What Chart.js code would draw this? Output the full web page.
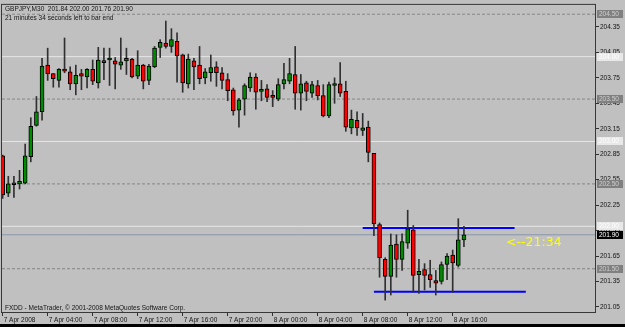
<!DOCTYPE html>
<html>
<head>
<meta charset="utf-8">
<script src="https://cdn.jsdelivr.net/npm/chart.js@4.4.0/dist/chart.umd.min.js"></script>
<style>
  html, body { margin: 0; padding: 0; background: #000; }
  canvas { display: block; }
</style>
</head>
<body>
<canvas id="myChart" width="625" height="324"></canvas>
<script>
// GBPJPY M30, 7-8 Apr 2008 (bar 0 = 7 Apr 00:00)
var symbol = 'GBPJPY,M30';
var opens = [
  202.83, 202.39, 202.49, 202.50, 202.51, 202.82, 203.19, 203.35, 203.90, 203.80,
  203.72, 203.85, 203.82, 203.68, 203.80, 203.76, 203.85, 203.69, 203.93, 203.96,
  203.95, 203.90, 203.95, 203.97, 203.77, 203.90, 203.72, 203.88, 204.11, 204.16,
  204.12, 204.18, 204.02, 203.68, 203.95, 203.90, 203.75, 203.81, 203.88, 203.81,
  203.73, 203.61, 203.37, 203.50, 203.63, 203.76, 203.59, 203.62, 203.54, 203.50,
  203.68, 203.71, 203.79, 203.57, 203.69, 203.57, 203.66, 203.54, 203.30, 203.66,
  203.68, 203.59, 203.16, 203.25, 203.13, 203.17, 202.86, 202.02, 201.61, 201.41,
  201.79, 201.61, 201.80, 201.96, 201.43, 201.49, 201.43, 201.36, 201.35, 201.55,
  201.66, 201.54, 201.84
];
var highs = [
  202.84, 202.59, 202.59, 202.66, 202.97, 203.28, 203.53, 203.98, 204.10, 203.80,
  203.86, 204.22, 203.88, 203.90, 203.85, 203.86, 203.96, 204.11, 204.10, 204.10,
  203.99, 204.22, 204.10, 203.98, 204.07, 203.91, 203.91, 204.12, 204.20, 204.42,
  204.33, 204.28, 204.03, 204.03, 203.98, 204.12, 203.86, 204.02, 203.94, 203.87,
  203.80, 203.63, 203.51, 203.68, 203.81, 203.80, 203.72, 203.67, 203.60, 203.74,
  203.92, 203.98, 204.12, 203.79, 203.71, 203.71, 203.72, 203.67, 203.70, 203.75,
  203.93, 203.71, 203.37, 203.35, 203.33, 203.24, 202.86, 202.04, 201.63, 201.91,
  201.90, 201.91, 202.19, 202.01, 201.61, 201.56, 201.60, 201.48, 201.58, 201.68,
  201.72, 202.09, 202.00
];
var lows = [
  202.33, 202.35, 202.34, 202.44, 202.50, 202.76, 203.18, 203.25, 203.72, 203.64,
  203.64, 203.81, 203.61, 203.55, 203.61, 203.63, 203.67, 203.63, 203.73, 203.66,
  203.62, 203.85, 203.79, 203.75, 203.74, 203.62, 203.67, 203.87, 203.99, 204.10,
  204.05, 203.70, 203.58, 203.63, 203.61, 203.68, 203.68, 203.71, 203.65, 203.62,
  203.48, 203.31, 203.17, 203.31, 203.59, 203.38, 203.48, 203.47, 203.41, 203.48,
  203.62, 203.68, 203.38, 203.37, 203.48, 203.52, 203.49, 203.29, 203.28, 203.45,
  203.53, 203.12, 203.09, 203.07, 203.07, 202.76, 201.89, 201.40, 201.13, 201.19,
  201.40, 201.48, 201.74, 201.22, 201.21, 201.25, 201.28, 201.19, 201.32, 201.37,
  201.22, 201.52, 201.76
];
var closes = [
  202.37, 202.50, 202.49, 202.53, 202.83, 203.18, 203.35, 203.89, 203.80, 203.74,
  203.85, 203.83, 203.68, 203.78, 203.77, 203.85, 203.71, 203.96, 203.94, 203.97,
  203.91, 203.94, 203.98, 203.76, 203.90, 203.71, 203.89, 204.10, 204.17, 204.12,
  204.20, 204.01, 203.69, 203.97, 203.88, 203.74, 203.82, 203.87, 203.81, 203.72,
  203.60, 203.36, 203.49, 203.66, 203.76, 203.58, 203.61, 203.52, 203.52, 203.67,
  203.73, 203.80, 203.57, 203.68, 203.59, 203.67, 203.54, 203.30, 203.67, 203.68,
  203.57, 203.17, 203.26, 203.16, 203.16, 202.87, 202.03, 201.63, 201.41, 201.78,
  201.61, 201.82, 201.97, 201.42, 201.47, 201.42, 201.37, 201.33, 201.55, 201.65,
  201.57, 201.84, 201.90
];

var xTickBars = [0, 8, 16, 24, 32, 40, 48, 56, 64, 72, 80];
var xTickLabels = ['7 Apr 2008', '7 Apr 04:00', '7 Apr 08:00', '7 Apr 12:00', '7 Apr 16:00',
  '7 Apr 20:00', '8 Apr 00:00', '8 Apr 04:00', '8 Apr 08:00', '8 Apr 12:00', '8 Apr 16:00'];
var yTickValues = [201.05, 201.35, 201.65, 201.95, 202.25, 202.55, 202.85, 203.15, 203.45, 203.75, 204.05, 204.35];

var dashedLevels = [204.50, 203.50, 202.50, 201.50];
var lightLevels = [204.00, 203.00, 202.00];
// trend lines: start bar, end bar, price
var upperLine = [64, 91, 201.98];
var lowerLine = [66, 93, 201.23];
var timeLeft = '21:34';
var timeLeftText = '21 minutes 34 seconds left to bar end';
var copyright = 'FXDD - MetaTrader, \u00a9 2001-2008 MetaQuotes Software Corp.';

var xMin = -0.12, xMax = 105.3;
var yMin = 200.99, yMax = 204.61;
var last = closes.length - 1;

var bodies = [], wicks = [], bodyColors = [];
for (var i = 0; i < opens.length; i++) {
  bodies.push({x: i, y: [opens[i], closes[i]]});
  wicks.push({x: i, y: [lows[i], highs[i]]});
  bodyColors.push(closes[i] >= opens[i] ? '#008c00' : '#ff0000');
}

function hline(level) {
  return [{x: xMin, y: level}, {x: xMax, y: level}];
}
function levelSet(levels, color, dash, order) {
  return levels.map(function (lv) {
    return {
      type: 'line', data: hline(lv), borderColor: color, borderWidth: 1,
      borderDash: dash, pointRadius: 0, fill: false, order: order
    };
  });
}

var smallFont = {family: '"Liberation Sans", Arial, sans-serif', size: 6.5};
var textColor = '#141414';

var datasets = [
  {
    type: 'bar', data: bodies, backgroundColor: bodyColors, borderColor: '#000',
    borderWidth: 1, borderSkipped: false, barThickness: 4, minBarLength: 2,
    grouped: false, order: 0
  },
  {
    type: 'bar', data: wicks, backgroundColor: '#303030', borderWidth: 0,
    barThickness: 1, grouped: false, order: 1
  },
  {
    type: 'line', data: [{x: upperLine[0], y: upperLine[2]}, {x: upperLine[1], y: upperLine[2]}],
    borderColor: '#0000ff', borderWidth: 2, pointRadius: 0, fill: false, order: 2
  },
  {
    type: 'line', data: [{x: lowerLine[0], y: lowerLine[2]}, {x: lowerLine[1], y: lowerLine[2]}],
    borderColor: '#0000ff', borderWidth: 2, pointRadius: 0, fill: false, order: 2
  },
  {
    type: 'line', data: hline(closes[last]), borderColor: '#8795ad', borderWidth: 1,
    pointRadius: 0, fill: false, order: 3
  }
].concat(levelSet(lightLevels, '#e6e6e6', [], 4))
 .concat(levelSet(dashedLevels, '#858585', [3, 2], 4));

// texts, frame and price boxes on the axis
var mtPlugin = {
  id: 'mtExtras',
  beforeDraw: function (chart) {
    var c = chart.ctx;
    c.save();
    c.fillStyle = '#c0c0c0';
    c.fillRect(0, 0, chart.width, chart.height);
    c.restore();
  },
  afterDraw: function (chart) {
    var c = chart.ctx, a = chart.chartArea;
    var xs = chart.scales.x, ys = chart.scales.y;
    c.save();
    c.strokeStyle = '#383838';
    c.lineWidth = 1;
    c.strokeRect(a.left - 0.5, a.top - 0.5, a.right - a.left + 1, a.bottom - a.top + 1);

    c.font = '6.5px "Liberation Sans", Arial, sans-serif';
    c.fillStyle = textColor;
    c.textBaseline = 'top';
    c.textAlign = 'left';
    var head = symbol + '  ' + opens[last].toFixed(2) + ' ' + highs[last].toFixed(2) + ' ' +
      lows[last].toFixed(2) + ' ' + closes[last].toFixed(2);
    c.fillText(head, a.left + 3, a.top + 1);
    c.fillText(timeLeftText, a.left + 3, a.top + 10);
    c.fillText(copyright, a.left + 3, a.bottom - 7);

    // countdown next to the last bar
    c.font = '12.5px "DejaVu Sans", sans-serif';
    c.fillStyle = '#ffff00';
    c.textBaseline = 'middle';
    c.fillText('<--' + timeLeft, xs.getPixelForValue(last + 7.5), ys.getPixelForValue(closes[last]) + 8);

    // price boxes
    c.font = '6.5px "Liberation Sans", Arial, sans-serif';
    function box(level, bg, fg) {
      var y = Math.round(ys.getPixelForValue(level));
      c.fillStyle = bg;
      c.fillRect(a.right + 2, y - 4, 26, 8);
      c.fillStyle = fg;
      c.fillText(level.toFixed(2), a.right + 4, y);
    }
    dashedLevels.forEach(function (lv) { box(lv, '#808080', '#cfcfcf'); });
    lightLevels.forEach(function (lv) { box(lv, '#e8e8e8', '#ffffff'); });
    box(closes[last], '#000000', '#ffffff');
    c.restore();
  }
};

var ctx = document.getElementById('myChart').getContext('2d');
var chart = new Chart(ctx, {
  type: 'bar',
  data: {datasets: datasets},
  plugins: [mtPlugin],
  options: {
    responsive: false,
    animation: false,
    events: [],
    layout: {padding: {left: 2, top: 2, right: 0, bottom: 0}},
    plugins: {legend: {display: false}, tooltip: {enabled: false}},
    scales: {
      x: {
        type: 'linear', min: xMin, max: xMax, offset: false,
        grid: {display: true, drawOnChartArea: false, drawTicks: true, tickLength: 4, color: '#303030', offset: false},
        border: {display: false},
        ticks: {
          autoSkip: false, maxRotation: 0, align: 'start', padding: 0, labelOffset: 1,
          font: smallFont, color: textColor,
          callback: function (value, index) { return xTickLabels[index]; }
        },
        afterBuildTicks: function (scale) {
          scale.ticks = xTickBars.map(function (b) { return {value: b}; });
        },
        afterFit: function (scale) { scale.height = 12; }
      },
      y: {
        position: 'right', min: yMin, max: yMax,
        grid: {display: true, drawOnChartArea: false, drawTicks: true, tickLength: 4, color: '#303030'},
        border: {display: false},
        ticks: {
          padding: 1, font: smallFont, color: textColor,
          callback: function (value) { return Number(value).toFixed(2); }
        },
        afterBuildTicks: function (scale) {
          scale.ticks = yTickValues.map(function (v) { return {value: v}; });
        },
        afterFit: function (scale) { scale.width = 30; }
      }
    }
  }
});
</script>
</body>
</html>
